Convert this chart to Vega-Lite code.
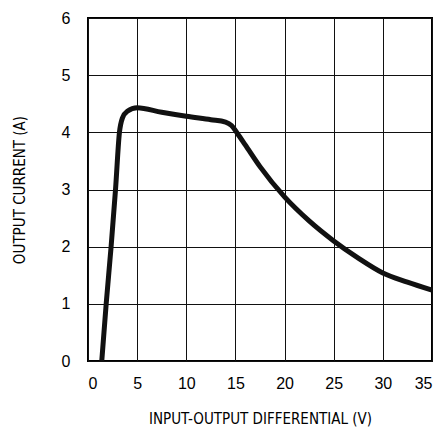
{
  "$schema": "https://vega.github.io/schema/vega-lite/v6.json",
  "autosize": "none",
  "width": 344,
  "height": 343,
  "padding": {"left": 88, "top": 18, "right": 9, "bottom": 70},
  "background": "white",
  "config": {
    "view": {"stroke": "black", "strokeWidth": 2},
    "axis": {
      "domain": false,
      "ticks": false,
      "grid": true,
      "gridColor": "#111",
      "gridWidth": 1,
      "gridOpacity": 1,
      "labelFont": "Liberation Sans",
      "labelFontSize": 16,
      "labelFontWeight": "normal",
      "labelColor": "#000",
      "titleFont": "DejaVu Sans Condensed, Liberation Sans",
      "titleFontSize": 15,
      "titleFontWeight": "normal",
      "titleColor": "#000"
    }
  },
  "data": {"values": [
    {"v": 1.4, "a": 0},
    {"v": 1.85, "a": 1},
    {"v": 2.35, "a": 2},
    {"v": 2.8, "a": 3},
    {"v": 3.2, "a": 4.0},
    {"v": 3.5, "a": 4.25},
    {"v": 4.0, "a": 4.37},
    {"v": 5.0, "a": 4.43},
    {"v": 7.5, "a": 4.35},
    {"v": 10, "a": 4.28},
    {"v": 12.5, "a": 4.22},
    {"v": 14, "a": 4.18},
    {"v": 14.6, "a": 4.12},
    {"v": 15.2, "a": 3.98},
    {"v": 16, "a": 3.78},
    {"v": 17.5, "a": 3.4},
    {"v": 20, "a": 2.87},
    {"v": 22.5, "a": 2.45},
    {"v": 25, "a": 2.1},
    {"v": 27.5, "a": 1.8},
    {"v": 30, "a": 1.54},
    {"v": 32.5, "a": 1.38},
    {"v": 35, "a": 1.24}
  ]},
  "mark": {"type": "line", "color": "#111", "strokeWidth": 5, "interpolate": "monotone", "clip": true},
  "encoding": {
    "x": {"field": "v", "type": "quantitative",
      "scale": {"domain": [0, 35], "nice": false},
      "axis": {"values": [0, 5, 10, 15, 20, 25, 30, 35], "title": "INPUT-OUTPUT DIFFERENTIAL (V)", "labelPadding": 14, "titlePadding": 20}},
    "y": {"field": "a", "type": "quantitative",
      "scale": {"domain": [0, 6], "nice": false},
      "axis": {"values": [0, 1, 2, 3, 4, 5, 6], "title": "OUTPUT CURRENT (A)", "labelPadding": 18, "titlePadding": 34}}
  }
}
